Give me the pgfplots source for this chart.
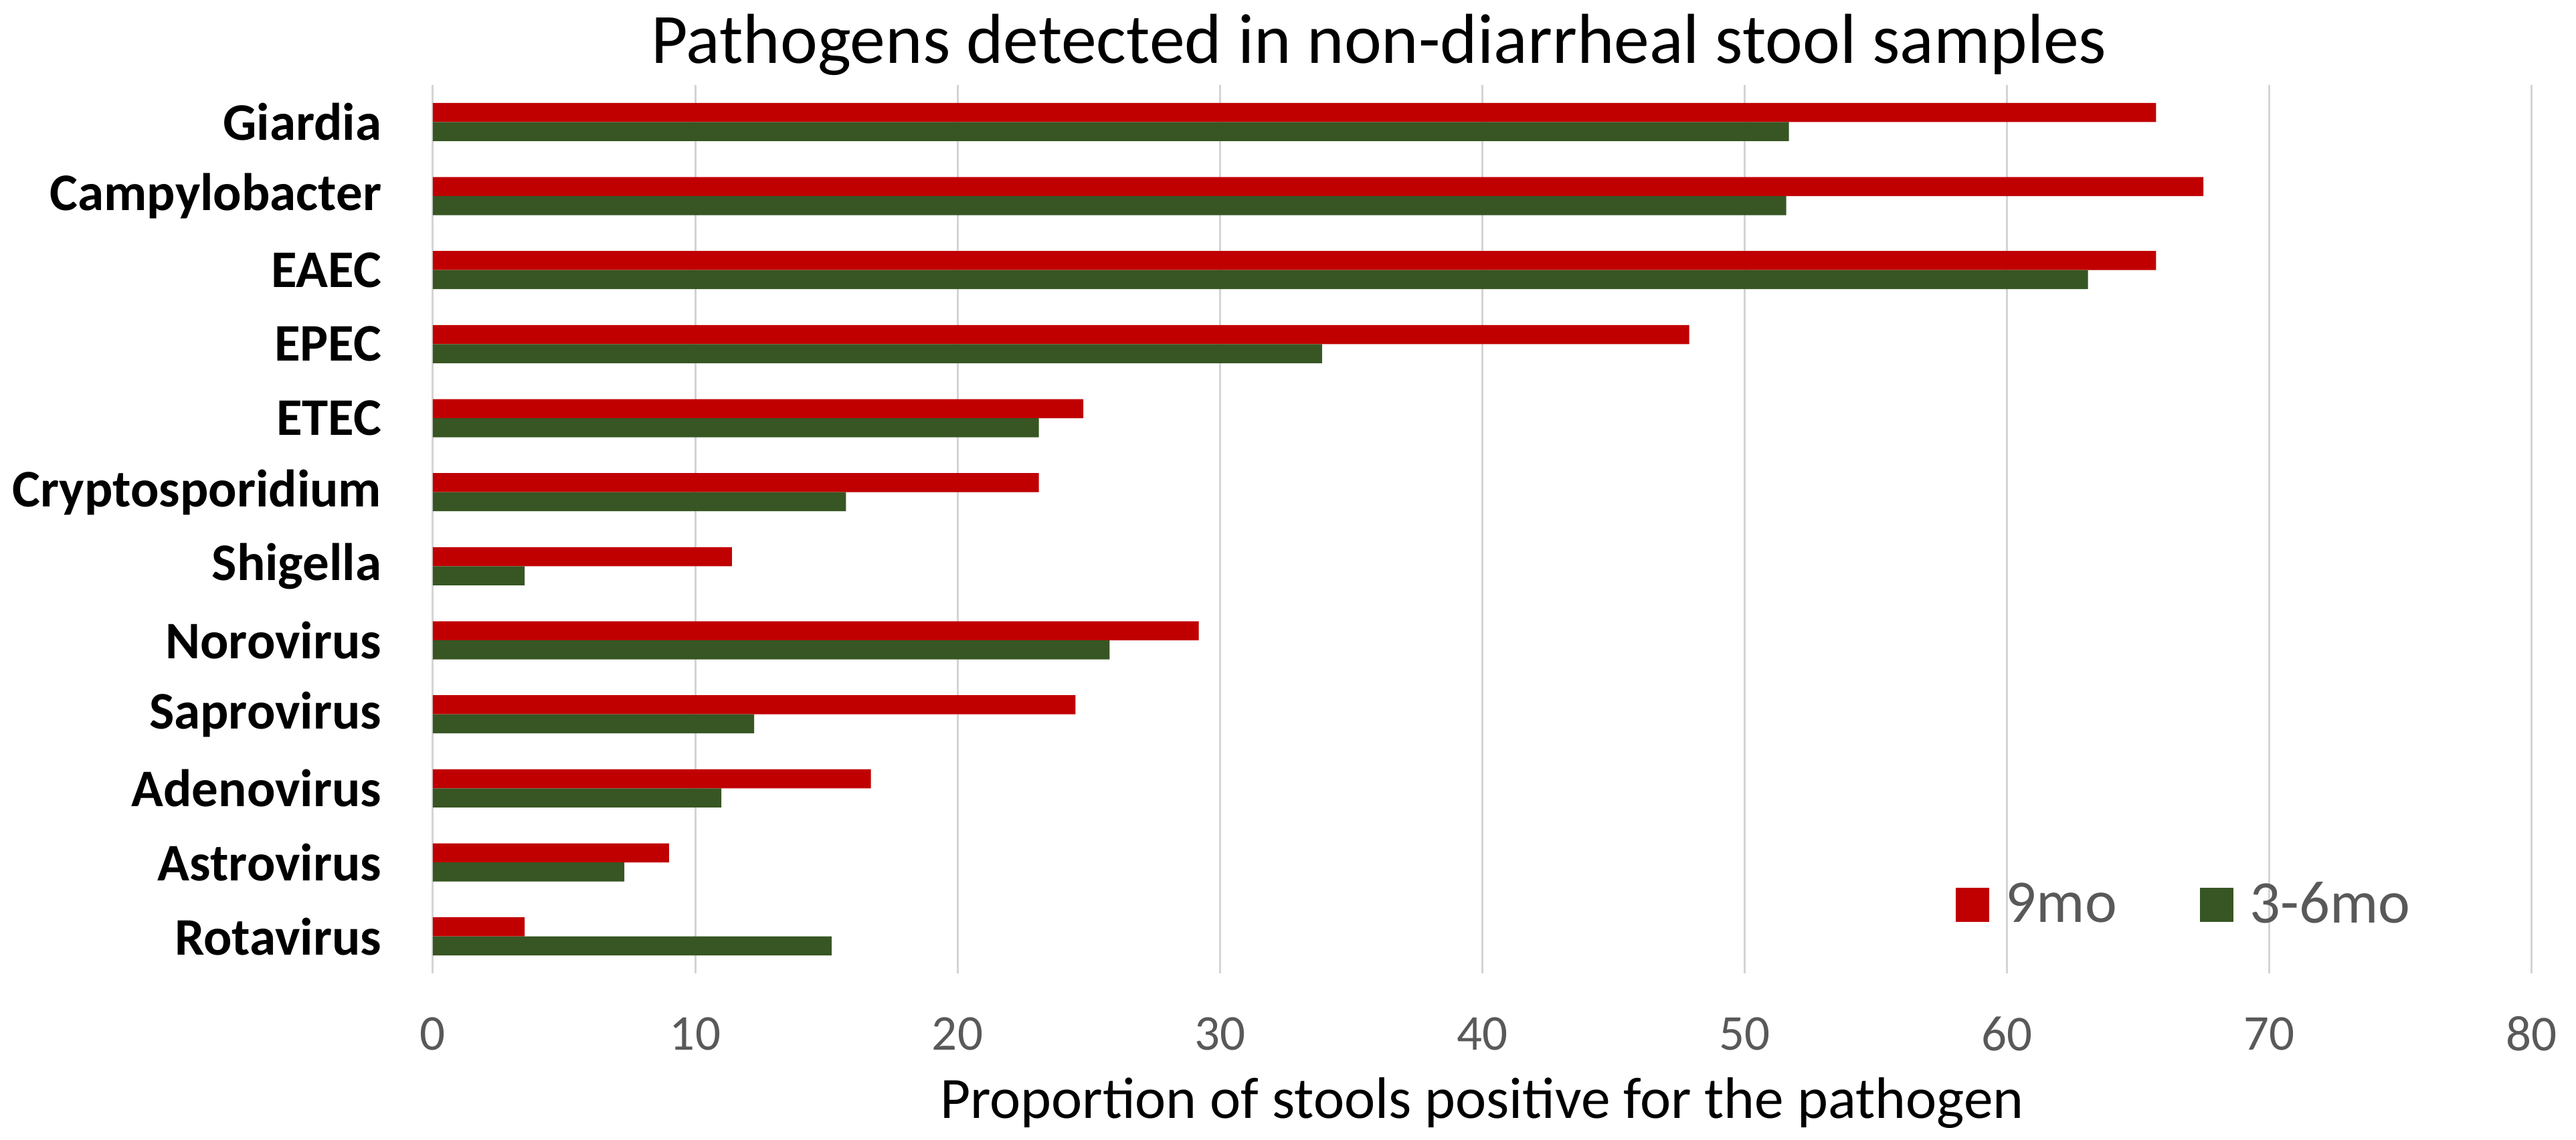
\documentclass[border=0pt]{standalone}
\usepackage{fontspec}
\setmainfont{Carlito}
\usepackage{pgfplots}
\pgfplotsset{compat=1.18}
\definecolor{barred}{HTML}{C00000}
\definecolor{bargreen}{HTML}{375623}
\definecolor{gridgray}{HTML}{D4D4D4}
\definecolor{ticktext}{HTML}{595959}

\begin{document}
\begin{tikzpicture}
\useasboundingbox (0,0) rectangle (770pt,340.6pt);
\begin{axis}[
  at={(129.4pt,49.6pt)}, anchor=south west,
  scale only axis, width=627.2pt, height=265.6pt,
  xbar=0pt, bar width=5.7pt,
  xmin=0, xmax=80, xtick={0,10,...,80},
  ymin=-0.5, ymax=11.5, y dir=reverse,
  ytick={0,...,11},
  yticklabels={Giardia,Campylobacter,EAEC,EPEC,ETEC,Cryptosporidium,Shigella,Norovirus,Saprovirus,Adenovirus,Astrovirus,Rotavirus},
  xmajorgrids, major grid style={gridgray, line width=0.6pt},
  axis line style={draw=none},
  major tick length=0pt,
  /pgf/number format/assume math mode=true,
  xticklabel style={font=\fontsize{15}{18}\selectfont, text=ticktext, anchor=center, inner sep=0pt, yshift=-18pt},
  yticklabel style={font=\fontsize{15.8}{18}\selectfont\bfseries, anchor=east, inner sep=0pt, xshift=-15.2pt},
  xlabel={Proportion of stools positive for the pathogen},
  xlabel style={font=\fontsize{17.5}{20}\selectfont, at={(axis description cs:0.5,0)}, anchor=base, yshift=-43.3pt, inner sep=0pt},
  legend columns=2,
  legend style={draw=none, fill=none, at={(axis description cs:0.7254,0.0772)}, anchor=west, inner sep=0pt, font=\fontsize{18.1}{21}\selectfont, text=ticktext, nodes={inner sep=0pt}, /tikz/every odd column/.append style={column sep=5pt}, /tikz/every even column/.append style={column sep=24.8pt}},
  legend image code/.code={\fill[#1] (0pt,-5.1pt) rectangle (10pt,5.1pt);},
]
\addplot[fill=barred, draw=none, bar shift=2.85pt] coordinates {(65.7,0) (67.5,1) (65.7,2) (47.9,3) (24.8,4) (23.1,5) (11.4,6) (29.2,7) (24.5,8) (16.7,9) (9.0,10) (3.5,11)};
\addplot[fill=bargreen, draw=none, bar shift=-2.85pt] coordinates {(51.7,0) (51.6,1) (63.1,2) (33.9,3) (23.1,4) (15.75,5) (3.5,6) (25.8,7) (12.25,8) (11.0,9) (7.3,10) (15.2,11)};
\legend{9mo,3-6mo}
\end{axis}
\node[anchor=base, font=\fontsize{21.15}{25}\selectfont] at (412.2pt,321.6pt) {Pathogens detected in non-diarrheal stool samples};
\end{tikzpicture}
\end{document}
